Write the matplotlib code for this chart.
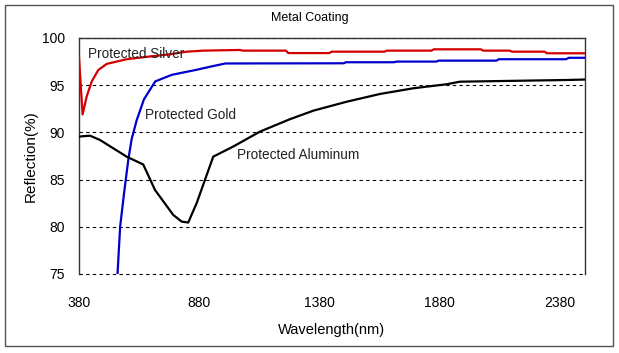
import matplotlib
matplotlib.use('Agg')
import matplotlib.pyplot as plt
from matplotlib.patches import Rectangle

plt.rcParams['font.family'] = ['Liberation Sans', 'DejaVu Sans']

# Reflection curves (wavelength nm, reflection %)
silver_nm = [380, 395, 412, 433, 460, 495, 578, 661, 758, 827, 897, 1049, 1060,
             1240, 1250, 1420, 1430, 1650, 1660, 1845, 1855, 2050, 2060, 2170,
             2180, 2315, 2325, 2483]
silver_r = [98.0, 91.9, 93.8, 95.4, 96.6, 97.25, 97.75, 98.0, 98.27, 98.55, 98.66,
            98.73, 98.66, 98.66, 98.4, 98.4, 98.55, 98.55, 98.66, 98.66, 98.8,
            98.8, 98.66, 98.66, 98.55, 98.55, 98.38, 98.38]

gold_nm = [528, 540, 551, 568, 585, 599, 620, 650, 697, 766, 863, 933, 988,
           1480, 1490, 1690, 1700, 1865, 1875, 2115, 2125, 2405, 2415, 2483]
gold_r = [72.0, 74.9, 80.0, 83.7, 87.1, 89.3, 91.3, 93.5, 95.4, 96.1, 96.6, 97.0,
          97.3, 97.32, 97.43, 97.43, 97.5, 97.5, 97.6, 97.6, 97.75, 97.75, 97.9, 97.9]

alu_nm = [380, 400, 426, 467, 578, 647, 696, 772, 807, 834, 869, 938, 1021, 1132,
          1257, 1354, 1493, 1631, 1769, 1908, 1963, 2157, 2407, 2483]
alu_r = [89.55, 89.6, 89.65, 89.2, 87.43, 86.6, 83.9, 81.25, 80.55, 80.45, 82.5,
         87.43, 88.5, 90.08, 91.4, 92.3, 93.25, 94.07, 94.67, 95.1, 95.37, 95.45,
         95.55, 95.6]

x_ticks = [380, 880, 1380, 1880, 2380]
y_ticks = [75, 80, 85, 90, 95, 100]

fig = plt.figure(figsize=(6.19, 3.53), dpi=100)
ax = fig.add_axes([0.1276, 0.2238, 0.8174, 0.6686])

# outer frame
fig.patches.append(Rectangle((0.008, 0.02), 0.982, 0.965, transform=fig.transFigure,
                             fill=False, edgecolor='#555555', linewidth=1.0))

for y in y_ticks:
    ax.axhline(y, color='black', linestyle=(0, (3, 3)), linewidth=0.8, zorder=1,
               clip_on=False)

ax.plot(silver_nm, silver_r, color='#d40000', linewidth=1.6, zorder=3)
ax.plot(gold_nm, gold_r, color='#0000cc', linewidth=1.6, zorder=3)
ax.plot(alu_nm, alu_r, color='black', linewidth=1.6, zorder=3)

ax.text(417, 98.3, 'Protected Silver', fontsize=9.8, va='center', color='#222222', zorder=4)
ax.text(654, 91.85, 'Protected Gold', fontsize=9.8, va='center', color='#222222')
ax.text(1037, 87.6, 'Protected Aluminum', fontsize=9.8, va='center', color='#222222')

ax.set_xlim(380, 2483)
ax.set_ylim(75, 100)
ax.set_xticks(x_ticks)
ax.set_yticks(y_ticks)
ax.tick_params(axis='y', length=0, labelsize=10, pad=10)
ax.tick_params(axis='x', length=0, labelsize=10, pad=16)
ax.spines['bottom'].set_visible(False)
for s in ['left', 'top', 'right']:
    ax.spines[s].set_linewidth(1.0)
    ax.spines[s].set_color('#333333')

ax.set_xlabel('Wavelength(nm)', fontsize=10.5, labelpad=9)
ax.set_ylabel('Reflection(%)', fontsize=11, labelpad=3)
fig.text(0.5, 0.948, 'Metal Coating', ha='center', va='center', fontsize=9)

fig.savefig('out.png', dpi=100)
